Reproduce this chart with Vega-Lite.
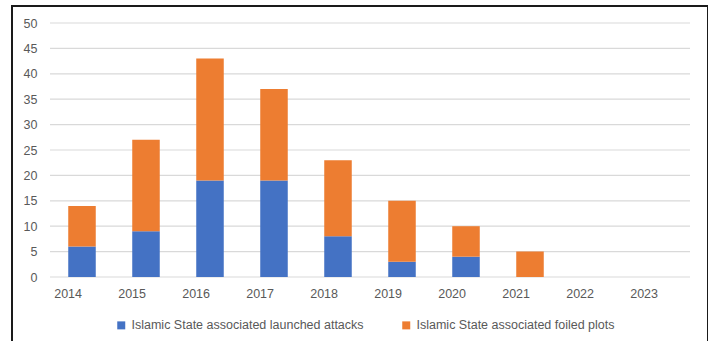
{
  "$schema": "https://vega.github.io/schema/vega-lite/v6.json",
  "autosize": "none",
  "padding": {"left": 12, "top": 6, "right": 0, "bottom": 0},
  "width": 696,
  "height": 340,
  "background": "white",
  "config": {
    "view": {"stroke": "#1a1a1a", "strokeWidth": 2},
    "font": "Liberation Sans",
    "axis": {"labelFont": "Liberation Sans", "labelFontSize": 12.5, "labelColor": "#595959", "labelOverlap": false},
    "legend": {"labelFont": "Liberation Sans", "labelFontSize": 12.5, "labelColor": "#595959", "labelLimit": 400}
  },
  "datasets": {
    "bars": [
      {"year": "2014", "series": "Islamic State associated launched attacks", "k": 1, "count": 6},
      {"year": "2014", "series": "Islamic State associated foiled plots", "k": 2, "count": 8},
      {"year": "2015", "series": "Islamic State associated launched attacks", "k": 1, "count": 9},
      {"year": "2015", "series": "Islamic State associated foiled plots", "k": 2, "count": 18},
      {"year": "2016", "series": "Islamic State associated launched attacks", "k": 1, "count": 19},
      {"year": "2016", "series": "Islamic State associated foiled plots", "k": 2, "count": 24},
      {"year": "2017", "series": "Islamic State associated launched attacks", "k": 1, "count": 19},
      {"year": "2017", "series": "Islamic State associated foiled plots", "k": 2, "count": 18},
      {"year": "2018", "series": "Islamic State associated launched attacks", "k": 1, "count": 8},
      {"year": "2018", "series": "Islamic State associated foiled plots", "k": 2, "count": 15},
      {"year": "2019", "series": "Islamic State associated launched attacks", "k": 1, "count": 3},
      {"year": "2019", "series": "Islamic State associated foiled plots", "k": 2, "count": 12},
      {"year": "2020", "series": "Islamic State associated launched attacks", "k": 1, "count": 4},
      {"year": "2020", "series": "Islamic State associated foiled plots", "k": 2, "count": 6},
      {"year": "2021", "series": "Islamic State associated launched attacks", "k": 1, "count": 0},
      {"year": "2021", "series": "Islamic State associated foiled plots", "k": 2, "count": 5},
      {"year": "2022", "series": "Islamic State associated launched attacks", "k": 1, "count": 0},
      {"year": "2022", "series": "Islamic State associated foiled plots", "k": 2, "count": 0},
      {"year": "2023", "series": "Islamic State associated launched attacks", "k": 1, "count": 0},
      {"year": "2023", "series": "Islamic State associated foiled plots", "k": 2, "count": 0}
    ],
    "grid": [
      {"v": 0}, {"v": 5}, {"v": 10}, {"v": 15}, {"v": 20}, {"v": 25},
      {"v": 30}, {"v": 35}, {"v": 40}, {"v": 45}, {"v": 50}
    ]
  },
  "layer": [
    {
      "data": {"name": "grid"},
      "mark": {"type": "rule", "color": "#d9d9d9", "strokeWidth": 1.2},
      "encoding": {
        "y": {"field": "v", "type": "quantitative", "scale": {"domain": [0, 50], "range": [271, 17], "nice": false, "zero": false},
              "axis": {"values": [0, 5, 10, 15, 20, 25, 30, 35, 40, 45, 50], "tickCount": 11, "labelOverlap": false, "labelBound": false, "grid": false, "ticks": false, "domain": false, "labelPadding": 0, "offset": -25, "title": null}},
        "x": {"datum": "2014", "type": "nominal", "bandPosition": 0},
        "x2": {"datum": "2023", "bandPosition": 1}
      }
    },
    {
      "data": {"name": "bars"},
      "mark": {"type": "bar", "width": {"band": 0.43}},
      "encoding": {
        "x": {"field": "year", "type": "nominal", "sort": null,
              "scale": {"domain": ["2014","2015","2016","2017","2018","2019","2020","2021","2022","2023"], "range": [38, 678], "paddingInner": 0, "paddingOuter": 0},
              "axis": {"title": null, "ticks": false, "domain": false, "grid": false, "labelAngle": 0, "labelPadding": 0, "offset": -53}},
        "y": {"field": "count", "type": "quantitative", "stack": "zero", "axis": {"values": [0, 5, 10, 15, 20, 25, 30, 35, 40, 45, 50], "tickCount": 11, "labelOverlap": false, "grid": false, "ticks": false, "domain": false, "labelPadding": 0, "offset": -25, "title": null}},
        "order": {"field": "k", "type": "quantitative"},
        "color": {"field": "series", "type": "nominal",
                  "scale": {"domain": ["Islamic State associated launched attacks", "Islamic State associated foiled plots"], "range": ["#4472C4", "#ED7D31"]},
                  "legend": {"title": null, "orient": "none", "direction": "horizontal", "legendX": 103, "legendY": 313, "symbolType": "square", "symbolSize": 64, "symbolStrokeWidth": 0, "labelOffset": 4, "columnPadding": 36, "padding": 0}}
      }
    }
  ]
}
